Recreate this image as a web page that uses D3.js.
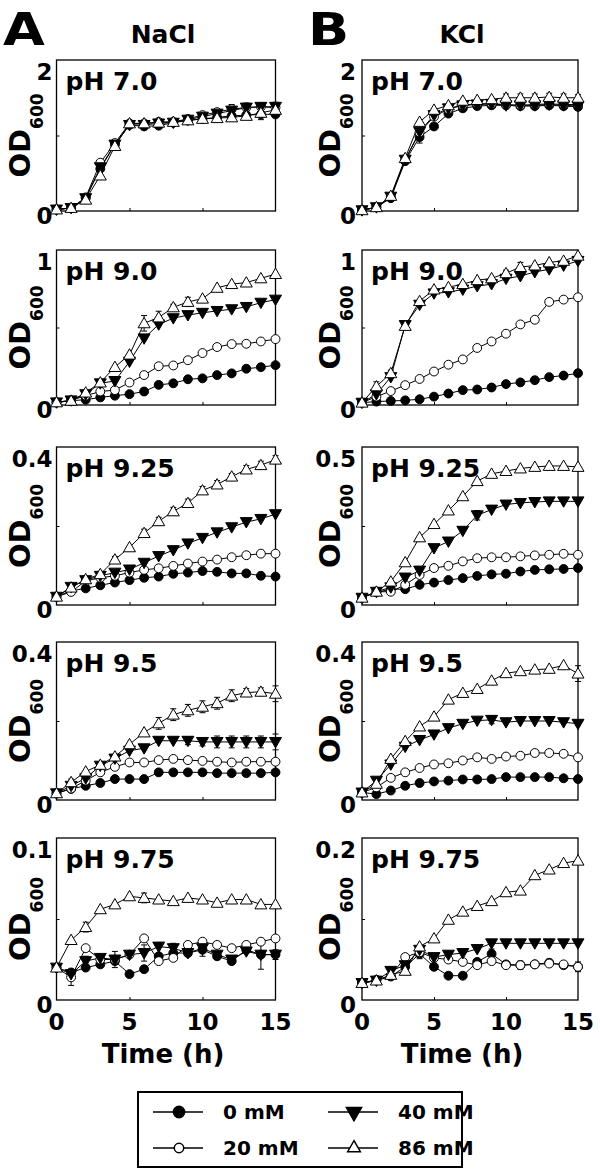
<!DOCTYPE html>
<html><head><meta charset="utf-8">
<script src="https://cdn.jsdelivr.net/npm/d3@7"></script>
<style>body{margin:0;background:#fff} text{font-family:"DejaVu Sans",sans-serif;font-weight:bold;fill:#000}</style>
</head><body><svg id="c" width="600" height="1175"></svg>
<script>
const hours = [0,1,2,3,4,5,6,7,8,9,10,11,12,13,14,15];
const concentrations = ["0 mM","20 mM","40 mM","86 mM"];
const salts = ["NaCl","KCl"];
const panelLetters = ["A","B"];
const phLabels = ["pH 7.0","pH 9.0","pH 9.25","pH 9.5","pH 9.75"];
const yMaxNaCl = [2,1,0.4,0.4,0.1];
const yMaxKCl = [2,1,0.5,0.4,0.2];
const yTopLabelsNaCl = ["2","1","0.4","0.4","0.1"];
const yTopLabelsKCl = ["2","1","0.5","0.4","0.2"];
const xTickValues = [0,5,10,15];

// series order: 0 mM, 20 mM, 40 mM, 86 mM
const naclPH70 = [
 [0.02,0.04,0.17,0.56,0.88,1.14,1.12,1.13,1.17,1.2,1.22,1.24,1.26,1.27,1.28,1.28],
 [0.02,0.04,0.18,0.64,0.9,1.16,1.16,1.18,1.18,1.22,1.27,1.31,1.35,1.37,1.38,1.37],
 [0.02,0.04,0.17,0.58,0.88,1.14,1.14,1.16,1.17,1.21,1.25,1.29,1.33,1.37,1.38,1.38],
 [0.02,0.04,0.15,0.47,0.86,1.16,1.16,1.17,1.18,1.2,1.22,1.23,1.24,1.26,1.3,1.34]
];
const kclPH70 = [
 [0.01,0.05,0.17,0.66,0.98,1.12,1.29,1.36,1.39,1.4,1.4,1.39,1.39,1.4,1.39,1.38],
 [0.01,0.05,0.19,0.68,1.04,1.25,1.35,1.4,1.42,1.42,1.41,1.4,1.41,1.42,1.41,1.41],
 [0.01,0.05,0.19,0.68,1.05,1.27,1.36,1.4,1.41,1.42,1.4,1.4,1.4,1.41,1.4,1.39],
 [0.01,0.05,0.2,0.7,1.18,1.34,1.4,1.46,1.47,1.48,1.5,1.5,1.5,1.51,1.5,1.5]
];
const naclPH90 = [
 [0.017,0.028,0.034,0.049,0.06,0.07,0.087,0.13,0.14,0.166,0.172,0.193,0.204,0.234,0.244,0.257],
 [0.017,0.03,0.06,0.087,0.096,0.145,0.193,0.25,0.255,0.289,0.335,0.374,0.393,0.395,0.41,0.425],
 [0.017,0.03,0.07,0.14,0.155,0.28,0.43,0.52,0.56,0.58,0.595,0.607,0.618,0.633,0.66,0.68],
 [0.017,0.027,0.08,0.145,0.245,0.325,0.527,0.565,0.63,0.665,0.686,0.756,0.78,0.79,0.817,0.845]
];
const kclPH90 = [
 [0.015,0.022,0.026,0.03,0.037,0.054,0.074,0.096,0.1,0.113,0.135,0.146,0.16,0.18,0.19,0.205],
 [0.015,0.054,0.09,0.128,0.168,0.216,0.26,0.294,0.368,0.41,0.46,0.52,0.55,0.665,0.68,0.695],
 [0.015,0.07,0.18,0.516,0.647,0.72,0.728,0.745,0.767,0.78,0.815,0.832,0.858,0.876,0.9,0.93],
 [0.015,0.12,0.205,0.51,0.67,0.745,0.76,0.78,0.805,0.817,0.85,0.89,0.9,0.92,0.93,0.963]
];
const naclPH925 = [
 [0.021,0.036,0.042,0.05,0.057,0.063,0.069,0.072,0.079,0.082,0.086,0.084,0.08,0.08,0.074,0.072],
 [0.021,0.033,0.061,0.069,0.074,0.082,0.089,0.093,0.099,0.105,0.11,0.115,0.121,0.126,0.13,0.13],
 [0.021,0.046,0.063,0.074,0.082,0.09,0.107,0.124,0.139,0.156,0.17,0.184,0.197,0.21,0.218,0.23],
 [0.021,0.044,0.065,0.078,0.115,0.146,0.182,0.212,0.237,0.258,0.29,0.305,0.325,0.343,0.354,0.368]
];
const kclPH925 = [
 [0.023,0.04,0.05,0.05,0.064,0.071,0.079,0.085,0.092,0.097,0.099,0.106,0.111,0.113,0.114,0.117],
 [0.023,0.042,0.042,0.064,0.095,0.117,0.124,0.138,0.148,0.151,0.151,0.154,0.157,0.159,0.162,0.159],
 [0.023,0.042,0.056,0.087,0.109,0.18,0.201,0.235,0.284,0.302,0.318,0.323,0.326,0.328,0.328,0.328],
 [0.023,0.042,0.074,0.135,0.214,0.256,0.299,0.344,0.392,0.415,0.424,0.432,0.437,0.44,0.44,0.437]
];
const naclPH95 = [
 [0.017,0.028,0.036,0.043,0.053,0.053,0.053,0.07,0.07,0.07,0.07,0.068,0.068,0.068,0.068,0.07],
 [0.017,0.029,0.049,0.07,0.084,0.095,0.095,0.101,0.104,0.101,0.099,0.097,0.095,0.097,0.097,0.097],
 [0.017,0.036,0.055,0.087,0.105,0.125,0.131,0.15,0.15,0.15,0.147,0.147,0.147,0.147,0.147,0.147],
 [0.017,0.045,0.072,0.089,0.11,0.141,0.171,0.194,0.216,0.227,0.236,0.245,0.264,0.272,0.274,0.269]
];
const kclPH95 = [
 [0.019,0.015,0.024,0.036,0.043,0.047,0.049,0.052,0.052,0.053,0.058,0.058,0.058,0.058,0.055,0.053],
 [0.019,0.032,0.056,0.07,0.081,0.09,0.093,0.1,0.108,0.104,0.11,0.112,0.119,0.119,0.117,0.108],
 [0.019,0.049,0.09,0.135,0.152,0.166,0.182,0.193,0.201,0.203,0.197,0.2,0.2,0.2,0.197,0.193],
 [0.019,0.041,0.104,0.149,0.186,0.211,0.254,0.271,0.281,0.302,0.321,0.326,0.33,0.332,0.341,0.32]
];
const naclPH975 = [
 [0.02,0.017,0.02,0.022,0.024,0.016,0.019,0.027,0.029,0.029,0.031,0.027,0.024,0.031,0.028,0.028],
 [0.02,0.014,0.032,0.025,0.025,0.028,0.038,0.024,0.026,0.034,0.036,0.034,0.032,0.034,0.036,0.038],
 [0.02,0.016,0.024,0.026,0.025,0.028,0.029,0.033,0.032,0.029,0.032,0.028,0.025,0.03,0.028,0.028],
 [0.02,0.037,0.045,0.056,0.059,0.064,0.063,0.062,0.061,0.063,0.062,0.06,0.062,0.062,0.059,0.059]
];
const kclPH975 = [
 [0.021,0.024,0.029,0.041,0.057,0.041,0.03,0.03,0.047,0.057,0.044,0.043,0.044,0.046,0.043,0.041],
 [0.021,0.025,0.03,0.053,0.059,0.052,0.05,0.047,0.043,0.048,0.043,0.043,0.044,0.045,0.044,0.041],
 [0.021,0.024,0.036,0.043,0.062,0.053,0.056,0.058,0.063,0.07,0.07,0.07,0.07,0.07,0.07,0.07],
 [0.021,0.024,0.031,0.036,0.066,0.076,0.099,0.109,0.116,0.122,0.133,0.135,0.154,0.161,0.169,0.172]
];

// error bars: [series index, hour index, +/- error]
const errNaclPH70 = [[3,4,0.05],[0,11,0.05],[1,12,0.06],[2,13,0.06],[0,14,0.07],[2,15,0.06]];
const errKclPH70 = [[0,4,0.08],[3,10,0.05],[3,11,0.05],[3,12,0.05],[3,13,0.05],[3,14,0.05],[3,15,0.04]];
const errNaclPH90 = [[3,6,0.05],[3,7,0.04],[3,8,0.02],[3,9,0.03]];
const errKclPH90 = [[3,1,0.03],[3,2,0.02],[3,10,0.02],[3,11,0.03]];
const errNaclPH925 = [[3,4,0.008],[3,6,0.01],[3,7,0.01],[3,8,0.01],[3,9,0.01],[3,10,0.01],[3,11,0.01],[3,12,0.008],[3,13,0.01],[3,14,0.01],[3,15,0.01]];
const errKclPH925 = [[2,8,0.015]];
const errNaclPH95 = [[3,1,0.008],[3,7,0.015],[3,8,0.015],[3,9,0.015],[3,10,0.015],[3,11,0.015],[3,12,0.015],[3,13,0.01],[3,14,0.01],[3,15,0.02],[2,9,0.01],[2,10,0.01],[2,11,0.015],[2,12,0.015],[2,13,0.015],[2,14,0.015],[2,15,0.02]];
const errKclPH95 = [[3,15,0.02],[2,9,0.01]];
const errNaclPH975 = [[1,1,0.005],[2,2,0.003],[3,2,0.003],[2,4,0.005],[2,6,0.005],[3,6,0.003],[2,8,0.003],[2,10,0.005],[0,14,0.009],[0,15,0.003]];
const errKclPH975 = [[0,4,0.006],[0,9,0.006],[1,11,0.005],[0,15,0.006]];

const naclData = [naclPH70, naclPH90, naclPH925, naclPH95, naclPH975];
const kclData = [kclPH70, kclPH90, kclPH925, kclPH95, kclPH975];
const naclErr = [errNaclPH70, errNaclPH90, errNaclPH925, errNaclPH95, errNaclPH975];
const kclErr = [errKclPH70, errKclPH90, errKclPH925, errKclPH95, errKclPH975];

// ---------- layout ----------
const svg = d3.select("#c");
const colX = [[56.5, 275.5], [362, 578]];
const rowY = [[60, 211], [250, 405], [447, 605], [642, 800], [838, 1000]];
const odBaseX = [30, 340];
const titleCx = [163, 462];

const symFor = [
  {type: d3.symbolCircle, size: 62, fill: "#000", rot: 0},
  {type: d3.symbolCircle, size: 62, fill: "#fff", rot: 0},
  {type: d3.symbolTriangle, size: 62, fill: "#000", rot: 180},
  {type: d3.symbolTriangle, size: 62, fill: "#fff", rot: 0}
];

function drawPanel(col, row) {
  const data = col === 0 ? naclData[row] : kclData[row];
  const errs = col === 0 ? naclErr[row] : kclErr[row];
  const yMax = col === 0 ? yMaxNaCl[row] : yMaxKCl[row];
  const topLabel = col === 0 ? yTopLabelsNaCl[row] : yTopLabelsKCl[row];
  const [x0, x1] = colX[col];
  const [y0, y1] = rowY[row];
  const x = d3.scaleLinear().domain([0, 15]).range([x0, x1]);
  const y = d3.scaleLinear().domain([0, yMax]).range([y1, y0]);
  const g = svg.append("g");

  // inward ticks
  const ya = g.append("g").attr("transform", `translate(${x0},0)`)
    .call(d3.axisLeft(y).tickValues([yMax / 2]).tickSize(-3).tickFormat(""));
  ya.select(".domain").remove();
  const xa = g.append("g").attr("transform", `translate(0,${y1})`)
    .call(d3.axisBottom(x).tickValues([5, 10]).tickSize(-3).tickFormat(""));
  xa.select(".domain").remove();
  g.selectAll(".tick line").attr("stroke", "#000").attr("stroke-width", 1);

  // frame
  g.append("rect").attr("x", x0).attr("y", y0).attr("width", x1 - x0).attr("height", y1 - y0)
    .attr("fill", "none").attr("stroke", "#000").attr("stroke-width", 1.3);

  // y labels
  const lx = col === 0 ? x0 - 4 : x0 - 6;
  g.append("text").attr("x", lx).attr("y", y0 + 12).attr("text-anchor", "end")
    .attr("dominant-baseline", "central").attr("font-size", 23).text(topLabel);
  g.append("text").attr("x", lx).attr("y", y1 + 5).attr("text-anchor", "end")
    .attr("dominant-baseline", "central").attr("font-size", 23).text("0");

  // OD600 label
  const cy = (y0 + y1) / 2;
  const od = g.append("text").attr("transform", `translate(${odBaseX[col]},${cy}) rotate(-90)`)
    .attr("text-anchor", "middle");
  od.append("tspan").attr("font-size", 29).text("OD");
  od.append("tspan").attr("font-size", 17).attr("dy", 13).text("600");

  // pH label
  g.append("text").attr("x", x0 + 9).attr("y", y0 + 30).attr("font-size", 25).text(phLabels[row]);

  // error bars
  errs.forEach(([s, h, e]) => {
    const v = data[s][h];
    const cx = x(hours[h]);
    g.append("line").attr("x1", cx).attr("x2", cx).attr("y1", y(v - e)).attr("y2", y(v + e))
      .attr("stroke", "#000").attr("stroke-width", 1);
    [v - e, v + e].forEach(vv => g.append("line").attr("x1", cx - 3).attr("x2", cx + 3)
      .attr("y1", y(vv)).attr("y2", y(vv)).attr("stroke", "#000").attr("stroke-width", 1));
  });

  // series
  const line = d3.line().x((d, i) => x(hours[i])).y(d => y(d));
  data.forEach((vals, s) => {
    g.append("path").attr("d", line(vals)).attr("fill", "none").attr("stroke", "#000").attr("stroke-width", 1);
  });
  data.forEach((vals, s) => {
    const sym = symFor[s];
    g.selectAll(null).data(vals).enter().append("path")
      .attr("d", d3.symbol().type(sym.type).size(sym.size))
      .attr("transform", (d, i) => `translate(${x(hours[i])},${y(d) + (sym.type === d3.symbolTriangle ? (sym.rot ? -1 : 1) : 0)}) rotate(${sym.rot})`)
      .attr("fill", sym.fill).attr("stroke", "#000").attr("stroke-width", 1);
  });

  // x tick labels + title on the bottom row
  if (row === rowY.length - 1) {
    xTickValues.forEach(t => {
      g.append("text").attr("x", x(t)).attr("y", y1 + 22).attr("text-anchor", "middle")
        .attr("dominant-baseline", "central").attr("font-size", 23).text(t);
    });
    g.append("text").attr("x", titleCx[col]).attr("y", y1 + 63).attr("text-anchor", "middle")
      .attr("font-size", 26).text("Time (h)");
  }
}

for (let c = 0; c < 2; c++) {
  svg.append("text").attr("transform", `translate(${c === 0 ? 3 : 308},45) scale(1.2,1)`)
    .attr("font-size", 45).text(panelLetters[c]);
  svg.append("text").attr("x", titleCx[c]).attr("y", 43).attr("text-anchor", "middle").attr("font-size", 25).text(salts[c]);
  for (let r = 0; r < rowY.length; r++) drawPanel(c, r);
}

// legend
const lg = svg.append("g");
lg.append("rect").attr("x", 138).attr("y", 1092).attr("width", 324).attr("height", 75)
  .attr("fill", "#fff").attr("stroke", "#000").attr("stroke-width", 2);
const legendPos = [[153, 1112], [153, 1148], [328, 1112], [328, 1148]];
concentrations.forEach((name, s) => {
  const [lx, ly] = legendPos[s];
  const sym = symFor[s];
  lg.append("line").attr("x1", lx).attr("x2", lx + 50).attr("y1", ly).attr("y2", ly).attr("stroke", "#000").attr("stroke-width", 1.5);
  lg.append("path").attr("d", d3.symbol().type(sym.type).size(s === 0 || s === 2 ? 100 : 70))
    .attr("transform", `translate(${lx + 26},${ly}) rotate(${sym.rot})`)
    .attr("fill", sym.fill).attr("stroke", "#000").attr("stroke-width", 1.5);
  lg.append("text").attr("x", lx + 70).attr("y", ly).attr("dominant-baseline", "central")
    .attr("font-size", 20).text(name);
});
</script></body></html>
